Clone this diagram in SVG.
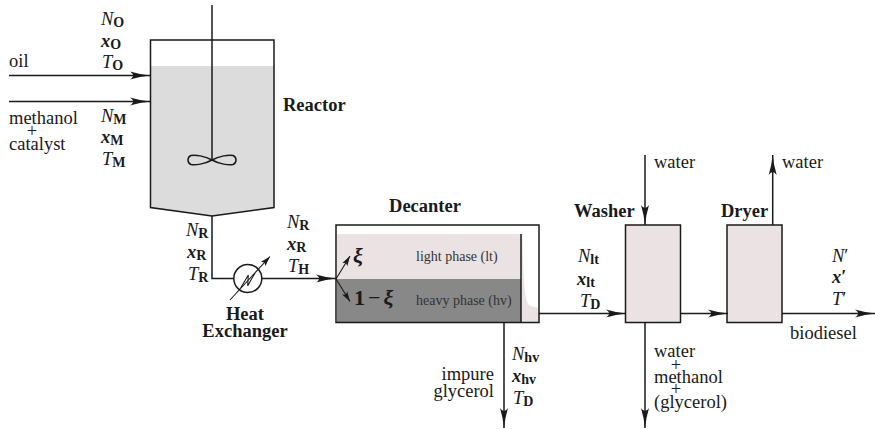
<svg xmlns="http://www.w3.org/2000/svg" width="875" height="429" viewBox="0 0 875 429">
<style>
text{font-family:"Liberation Serif","Times New Roman",serif;font-size:18.500px;fill:#1a1a1a}
.b{font-weight:bold}
.i{font-style:italic}
.bi{font-weight:bold;font-style:italic}
.s{font-weight:bold;font-size:14px}
.p{font-size:14px;fill:#333}
.c{text-anchor:middle}
.e{text-anchor:end}
.l{fill:none;stroke:#1a1a1a;stroke-width:1.500}
.t{fill:none;stroke:#1a1a1a;stroke-width:1.100}
.box{stroke:#1a1a1a;stroke-width:1.500}
</style>
<defs>
<marker id="a" markerUnits="userSpaceOnUse" markerWidth="22" markerHeight="12" refX="20" refY="6" orient="auto"><path d="M0,2 Q10,5 20,6 Q10,7 0,10 Q6,6 0,2 Z" fill="#1a1a1a"/></marker>
<marker id="t" markerUnits="userSpaceOnUse" markerWidth="12" markerHeight="8" refX="10" refY="4" orient="auto"><path d="M0,1 L10,4 L0,7 L2,4 Z" fill="#1a1a1a"/></marker>
</defs>
<g id="reactor">
<path d="M151,66 H274 V208 L212,216 L151,208 Z" fill="#dcdcdc"/>
<path class="l" d="M150.500,40 H274 V207.500 L212,216 L150.500,207.500 Z"/>
<path class="l" d="M212,5 V160"/>
<path class="l" d="M212,160 C205,156 195,154.500 191,155.500 C187,157 187,163 191,164.500 C195,165.500 205,164 212,160 C219,156 229,154.500 233,155.500 C237,157 237,163 233,164.500 C229,165.500 219,164 212,160 Z"/>
<text class="b" x="283" y="111">Reactor</text>
</g>
<g id="heat-exchanger">
<circle class="l" cx="247.800" cy="278.500" r="14" fill="#fff"/>
<path class="t" d="M230,300 L270,256.500" marker-end="url(#t)"/>
<path class="t" d="M240.700,288 L248.300,275 L247.700,285.700 L255,273"/>
<text class="b c" x="245" y="320">Heat</text>
<text class="b c" x="245" y="337">Exchanger</text>
</g>
<g id="decanter">
<rect x="336" y="225" width="203" height="97.500" fill="#fff"/>
<rect x="337" y="234" width="184" height="45" fill="#ebe3e3"/>
<rect x="337" y="279" width="184" height="43" fill="#888"/>
<path d="M521,234 H522.500 C523,270 524,300 529,305 C532,307 536,307 539,308 V322 H521 Z" fill="#ebe3e3"/>
<rect class="box" x="336" y="225" width="203" height="97.500" fill="none"/>
<path class="l" d="M521,234 V322"/>
<text class="b c" x="425" y="212">Decanter</text>
<text class="p" x="416" y="261">light phase (lt)</text>
<text class="p" x="416" y="305">heavy phase (hv)</text>
<text class="bi" style="font-size:22px" x="353" y="263">ξ</text>
<text style="font-size:22px" x="354" y="305"><tspan class="b">1</tspan><tspan dx="3">−</tspan><tspan class="bi" dx="3">ξ</tspan></text>
</g>
<g id="washer">
<rect class="box" x="625.500" y="225" width="55" height="97.500" fill="#ebe3e3"/>
<text class="b" x="574" y="217">Washer</text>
</g>
<g id="dryer">
<rect class="box" x="727" y="225" width="55" height="97.500" fill="#ebe3e3"/>
<text class="b" x="721" y="217">Dryer</text>
</g>
<g id="connectors">
<path class="l" d="M9,75.500 H150" marker-end="url(#a)"/>
<path class="l" d="M9,101.500 H150" marker-end="url(#a)"/>
<path class="l" d="M212,216 V278.500 H233.500"/>
<path class="l" d="M261.800,278.500 H336" marker-end="url(#a)"/>
<path class="t" d="M336,279 L350,256" marker-end="url(#t)"/>
<path class="t" d="M336,279 L350,301.500" marker-end="url(#t)"/>
<path class="l" d="M539,313.500 H626" marker-end="url(#a)"/>
<path class="l" d="M680.500,313.500 H728" marker-end="url(#a)"/>
<path class="l" d="M782,313.500 H875" marker-end="url(#a)"/>
<path class="l" d="M645,155 V225" marker-end="url(#a)"/>
<path class="l" d="M645,322.500 V428" marker-end="url(#a)"/>
<path class="l" d="M772.700,225 V155" marker-end="url(#a)"/>
<path class="l" d="M504,322.500 V428" marker-end="url(#a)"/>
</g>
<g id="labels">
<text x="9" y="67">oil</text>
<text x="9" y="124">methanol</text>
<text class="c" x="32" y="137">+</text>
<text x="9" y="150">catalyst</text>
<text x="101" y="25"><tspan class="i">N</tspan><tspan class="s" dy="2">O</tspan></text>
<text x="101" y="47"><tspan class="bi">x</tspan><tspan class="s" dy="2">O</tspan></text>
<text x="102" y="68"><tspan class="i">T</tspan><tspan class="s" dy="2">O</tspan></text>
<text x="101" y="122"><tspan class="i">N</tspan><tspan class="s" dy="2">M</tspan></text>
<text x="101" y="143"><tspan class="bi">x</tspan><tspan class="s" dy="2">M</tspan></text>
<text x="102" y="165"><tspan class="i">T</tspan><tspan class="s" dy="2">M</tspan></text>
<text x="186" y="236"><tspan class="i">N</tspan><tspan class="s" dy="2">R</tspan></text>
<text x="187" y="258"><tspan class="bi">x</tspan><tspan class="s" dy="2">R</tspan></text>
<text x="188" y="280"><tspan class="i">T</tspan><tspan class="s" dy="2">R</tspan></text>
<text x="287" y="228"><tspan class="i">N</tspan><tspan class="s" dy="2">R</tspan></text>
<text x="287" y="249.500"><tspan class="bi">x</tspan><tspan class="s" dy="2">R</tspan></text>
<text x="288" y="271.500"><tspan class="i">T</tspan><tspan class="s" dy="2">H</tspan></text>
<text x="512" y="359.500"><tspan class="i">N</tspan><tspan class="s" dy="2">hv</tspan></text>
<text x="512" y="382"><tspan class="bi">x</tspan><tspan class="s" dy="2">hv</tspan></text>
<text x="513" y="404"><tspan class="i">T</tspan><tspan class="s" dy="2">D</tspan></text>
<text class="e" x="494" y="380">impure</text>
<text class="e" x="494" y="397">glycerol</text>
<text x="578" y="262"><tspan class="i">N</tspan><tspan class="s" dy="2">lt</tspan></text>
<text x="577" y="285"><tspan class="bi">x</tspan><tspan class="s" dy="2">lt</tspan></text>
<text x="580" y="307"><tspan class="i">T</tspan><tspan class="s" dy="2">D</tspan></text>
<text x="654" y="168">water</text>
<text x="782" y="168">water</text>
<text x="654" y="357">water</text>
<text class="c" x="676" y="371">+</text>
<text x="654" y="383">methanol</text>
<text class="c" x="676" y="395">+</text>
<text x="654" y="408">(glycerol)</text>
<text x="832" y="262"><tspan class="i">N</tspan><tspan>′</tspan></text>
<text x="832" y="283"><tspan class="bi">x</tspan><tspan class="b">′</tspan></text>
<text x="832" y="305"><tspan class="i">T</tspan><tspan>′</tspan></text>
<text x="790" y="339">biodiesel</text>
</g>
</svg>
